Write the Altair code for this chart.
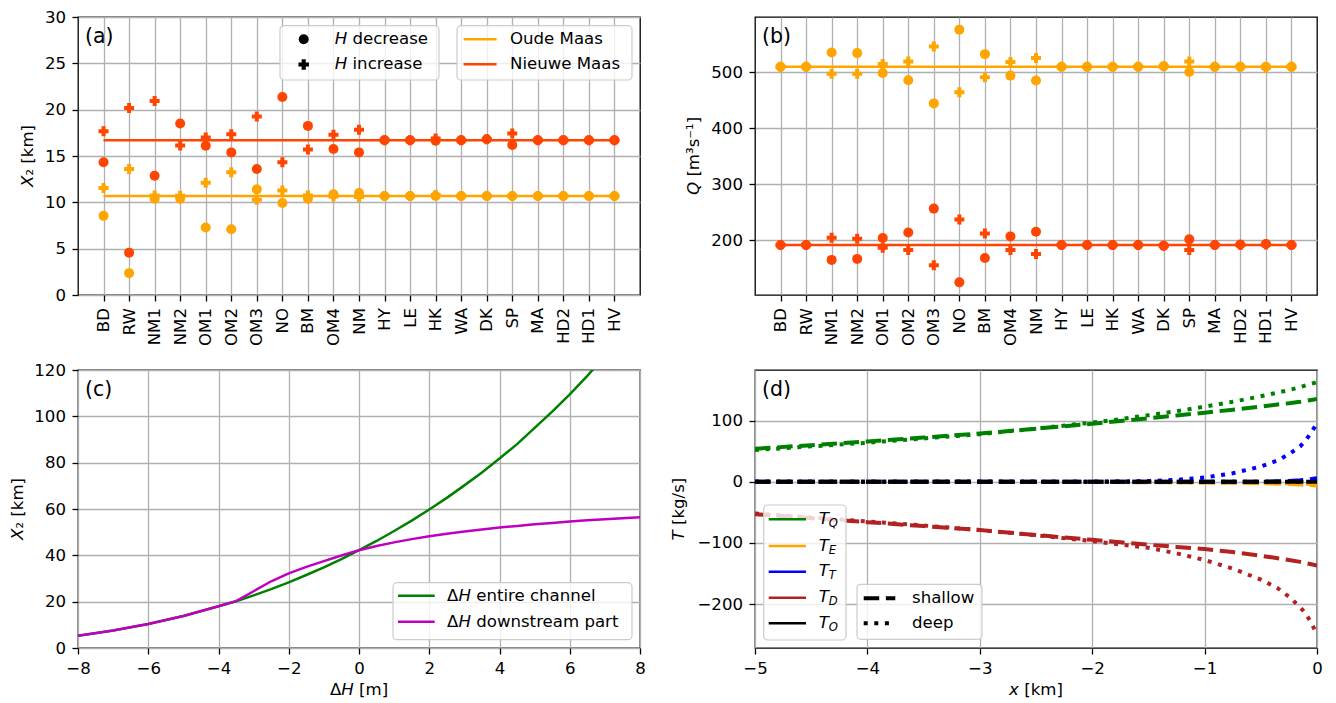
import altair as alt
import pandas as pd

FONT = "DejaVu Sans"
FS = 16.6
FS_PANEL = 20.5
FS_SUB = 11.6
SP = 5.3  # width of a space at FS
W, H = 562, 278

# ---------------- data ----------------
sites = ["BD", "RW", "NM1", "NM2", "OM1", "OM2", "OM3", "NO", "BM", "OM4", "NM",
         "HY", "LE", "HK", "WA", "DK", "SP", "MA", "HD2", "HD1", "HV"]

# (a) X2 [km]
a_om_ref = 10.68
a_nm_ref = 16.71
a_om_dec = [8.54, 2.36, 10.4, 10.4, 7.29, 7.1, 11.4, 9.93, 10.4, 10.86, 11.0,
            10.68, 10.68, 10.68, 10.68, 10.68, 10.68, 10.68, 10.68, 10.68, 10.68]
a_om_inc = [11.54, 13.6, 10.75, 10.7, 12.1, 13.25, 10.29, 11.29, 10.75, 10.64, 10.57,
            10.68, 10.68, 10.8, 10.68, 10.68, 10.68, 10.68, 10.68, 10.68, 10.68]
a_nm_dec = [14.32, 4.57, 12.86, 18.5, 16.1, 15.39, 13.6, 21.36, 18.25, 15.75, 15.39,
            16.71, 16.71, 16.65, 16.71, 16.8, 16.18, 16.71, 16.71, 16.71, 16.71]
a_nm_inc = [17.68, 20.18, 20.93, 16.14, 17.0, 17.36, 19.25, 14.32, 15.71, 17.29, 17.82,
            16.71, 16.71, 16.9, 16.71, 16.8, 17.43, 16.71, 16.71, 16.71, 16.71]

# (b) Q [m3/s]
b_om_ref = 510
b_nm_ref = 191
b_om_dec = [510, 510, 535.5, 534.3, 498.8, 485.8, 444.4, 576.3, 532.5, 494.1, 485.2,
            510, 510, 510, 510, 511, 500.6, 510, 510, 510, 510]
b_om_inc = [510, 510, 497.6, 497.6, 514.8, 519.5, 546.2, 464.5, 491.1, 518.3, 525.4,
            510, 510, 510, 510, 511, 519.5, 510, 510, 508, 510]
b_nm_dec = [191, 191, 164.5, 166.3, 203.6, 213.6, 256.2, 124.3, 168.0, 206.5, 214.8,
            191, 191, 191, 191, 190, 201.2, 191, 192, 193, 191]
b_nm_inc = [191, 191, 204.1, 202.4, 186.4, 182.2, 155.0, 236.7, 211.8, 182.2, 175.1,
            191, 191, 191, 191, 190, 182.2, 191, 191, 192, 191]

# (c) X2 vs dH
dh = [-8, -7, -6, -5, -4, -3.5, -3, -2.5, -2, -1.5, -1, -0.5, 0, 0.5, 1, 1.5, 2,
      2.5, 3, 3.5, 4, 4.5, 5, 5.5, 6, 6.5, 7, 7.5, 8]
x2_entire = [5.3, 7.6, 10.4, 13.8, 18.0, 20.2, 22.7, 25.4, 28.3, 31.5, 34.8, 38.4, 42.2,
             46.2, 50.5, 55.0, 59.8, 64.8, 70.2, 75.8, 81.8, 88.0, 95.0, 102.0, 109.5,
             117.5, 126.0, None, None]
x2_down = [5.3, 7.6, 10.4, 13.8, 18.0, 20.2, 24.5, 28.8, 32.2, 35.0, 37.5, 39.9, 42.2,
           44.0, 45.6, 47.0, 48.2, 49.3, 50.3, 51.2, 52.0, 52.7, 53.4, 54.0, 54.6,
           55.1, 55.6, 56.0, 56.4]

# (d) transports T [kg/s] vs x [km]
xd = [-5, -4.5, -4, -3.5, -3, -2.5, -2, -1.75, -1.5, -1.25, -1, -0.75, -0.5, -0.35,
      -0.25, -0.15, -0.1, -0.05, 0]
TQ_shallow = [54, 60, 66, 72.5, 79, 87, 95, 99.5, 104, 108.5, 113, 118, 123, 126.5,
              128.5, 131, 132.5, 134, 135.5]
TQ_deep = [52, 58, 64, 71, 78, 87, 97, 102.5, 109, 115.5, 123, 131, 140, 146, 150,
           155, 158, 160.5, 163]
TE_shallow = [0, 0, 0, 0, 0, -0.2, -0.4, -0.5, -0.7, -0.9, -1.2, -1.6, -2.3, -3, -3.6,
              -4.4, -4.9, -5.4, -6]
TE_deep = [0, 0, 0, 0, 0, -0.1, -0.2, -0.3, -0.4, -0.6, -0.8, -1.1, -1.6, -2.0, -2.4,
           -2.9, -3.2, -3.6, -4]
TT_shallow = [0, 0, 0, 0, 0, 0, 0, 0, 0, 0, 0, 0.1, 0.3, 0.8, 1.3, 2.4, 3.3, 4.5, 6]
TT_deep = [0, 0, 0, 0, 0, 0.1, 0.2, 0.5, 1.2, 3.2, 7, 14, 25, 35, 45, 58, 68, 81, 96]
TD_shallow = [-53, -59.5, -66, -72.5, -79, -87, -95, -99, -103, -106.5, -110, -115,
              -121, -125, -128, -131, -133, -135, -137]
TD_deep = [-52, -58.5, -65, -71.5, -79, -87.5, -97, -102.5, -108, -117, -128, -142,
           -160, -174, -188, -205, -216, -231, -250]
TO_shallow = [0, 0, 0, 0, 0, 0, 0, 0, 0, 0, 0, 0, 0, 0, 0, 0, 0, 0, 0]
TO_deep = [0, 0, 0, 0, 0, 0, 0, 0, 0, 0, 0, 0, 0, 0, 0, 0, 0, 0, 0]

river_names = ["Oude Maas", "Nieuwe Maas"]
river_colors = ["#FFA500", "#FF4500"]
change_names = ["decrease", "increase"]
comp_names = ["T_Q", "T_E", "T_T", "T_D", "T_O"]
comp_colors = ["#008000", "#FFA500", "#0000FF", "#B22222", "#000000"]
depth_names = ["shallow", "deep"]
DASH = [15.5, 6.7]
DOT = [4, 6.6]

ONE = pd.DataFrame({"k": [0]})


# ---------------- helpers (legends / math titles) ----------------
def txt(s, x, y, size=FS, style="normal", align="left", angle=0, baseline="middle"):
    kw = dict(text=s, align=align, baseline=baseline, font=FONT, fontSize=size,
              fontStyle=style, color="black")
    if angle:
        kw["angle"] = angle
    return alt.Chart(ONE).mark_text(**kw).encode(x=alt.value(x), y=alt.value(y))


def box(x1, x2, y1, y2):
    return alt.Chart(ONE).mark_rect(fill="white", fillOpacity=0.8, stroke="#cccccc",
                                    strokeWidth=1.2, cornerRadius=4).encode(
        x=alt.value(x1), x2=alt.value(x2), y=alt.value(y1), y2=alt.value(y2))


def hline(x1, x2, y, color, width=2.5, dash=None):
    kw = dict(color=color, strokeWidth=width)
    if dash:
        kw["strokeDash"] = dash
    return alt.Chart(ONE).mark_rule(**kw).encode(x=alt.value(x1), x2=alt.value(x2),
                                                 y=alt.value(y))


def sym(shape, x, y, size):
    return alt.Chart(ONE).mark_point(shape=shape, filled=True, size=size, color="black",
                                     opacity=1, strokeWidth=0).encode(
        x=alt.value(x), y=alt.value(y))


def ytitle(italic, rest, cx, w_italic, w_total, gap=0.0):
    # rotated title, reading bottom-to-top, centred on the plot height
    ya = H / 2 + w_total / 2 - w_italic
    return [txt(italic, cx, ya, style="italic", align="right", angle=270),
            txt(rest, cx, ya - gap, align="left", angle=270)]


def station_frames(om_ref, nm_ref, om_dec, om_inc, nm_dec, nm_inc):
    n = len(sites)
    lines = pd.DataFrame({
        "site": sites * 2,
        "i": list(range(n)) * 2,
        "river": ["Oude Maas"] * n + ["Nieuwe Maas"] * n,
        "v": [om_ref] * n + [nm_ref] * n,
    })
    pts = pd.DataFrame({
        "site": sites * 4,
        "river": ["Oude Maas"] * (2 * n) + ["Nieuwe Maas"] * (2 * n),
        "change": (["decrease"] * n + ["increase"] * n) * 2,
        "v": om_dec + om_inc + nm_dec + nm_inc,
    })
    return lines, pts


def station_panel(lines, pts, ydomain, yticks):
    xenc = alt.X("site:N", sort=sites, scale=alt.Scale(type="point", padding=1),
                 axis=alt.Axis(title=None, labelAngle=270, labelAlign="right",
                               labelBaseline="middle", grid=True))
    yenc = alt.Y("v:Q", scale=alt.Scale(domain=ydomain, nice=False, zero=False),
                 axis=alt.Axis(title=None, values=yticks))
    color = alt.Color("river:N", scale=alt.Scale(domain=river_names, range=river_colors),
                      legend=None)
    ln = alt.Chart(lines).mark_line(strokeWidth=2.5).encode(
        x=xenc, y=yenc, color=color, order="i:Q", detail="river:N")
    pt = alt.Chart(pts).mark_point(filled=True, opacity=1, size=100, strokeWidth=0).encode(
        x=xenc, y=yenc, color=color,
        shape=alt.Shape("change:N", scale=alt.Scale(domain=change_names,
                                                    range=["circle", "cross"]),
                        legend=None))
    return [ln, pt]


# ---------------- panel (a) ----------------
la, pa_pts = station_frames(a_om_ref, a_nm_ref, a_om_dec, a_om_inc, a_nm_dec, a_nm_inc)
layers_a = station_panel(la, pa_pts, [0, 30], [0, 5, 10, 15, 20, 25, 30])
layers_a += [
    txt("(a)", 7, 20, size=FS_PANEL),
    box(202, 361, 8.7, 63),
    sym("circle", 225.7, 22.3, 100),
    sym("cross", 225.7, 47.5, 110),
    txt("H", 256.7, 22.3, style="italic"),
    txt("decrease", 269.2 + SP, 22.3),
    txt("H", 256.7, 47.3, style="italic"),
    txt("increase", 269.2 + SP, 47.3),
    box(379, 554, 8.7, 63),
    hline(385.6, 418.6, 22.3, river_colors[0]),
    hline(385.6, 418.6, 47.3, river_colors[1]),
    txt("Oude Maas", 432, 22.3),
    txt("Nieuwe Maas", 432, 47.3),
]
layers_a += ytitle("X", "\u2082 [km]", -50, 11.4, 62)
panel_a = alt.layer(*layers_a).properties(width=W, height=H)

# ---------------- panel (b) ----------------
lb, pb_pts = station_frames(b_om_ref, b_nm_ref, b_om_dec, b_om_inc, b_nm_dec, b_nm_inc)
layers_b = station_panel(lb, pb_pts, [101.7, 598.9], [200, 300, 400, 500])
layers_b += [txt("(b)", 7, 20, size=FS_PANEL)]
layers_b += ytitle("Q", "[m\u00b3s\u207b\u00b9]", -61, 13.1, 78, gap=SP)
panel_b = alt.layer(*layers_b).properties(width=W, height=H)

# ---------------- panel (c) ----------------
dfc = pd.DataFrame({
    "dh": dh * 2,
    "x2": x2_entire + x2_down,
    "case": ["entire"] * len(dh) + ["downstream"] * len(dh),
}).dropna()
xc = alt.X("dh:Q", scale=alt.Scale(domain=[-8, 8], nice=False, zero=False),
           axis=alt.Axis(title=None, values=[-8, -6, -4, -2, 0, 2, 4, 6, 8]))
yc = alt.Y("x2:Q", scale=alt.Scale(domain=[0, 120], nice=False, zero=False),
           axis=alt.Axis(title=None, values=[0, 20, 40, 60, 80, 100, 120]))
line_c1 = alt.Chart(dfc[dfc["case"] == "entire"]).mark_line(
    color="#008000", strokeWidth=2.5, clip=True).encode(x=xc, y=yc, order="dh:Q")
line_c2 = alt.Chart(dfc[dfc["case"] == "downstream"]).mark_line(
    color="#BF00BF", strokeWidth=2.5, clip=True).encode(x=xc, y=yc, order="dh:Q")
cx = W / 2
layers_c = [
    line_c1, line_c2,
    txt("(c)", 7, 20, size=FS_PANEL),
    box(315, 554, H - 65.3, H - 8.3),
    hline(320, 356.7, H - 52.3, "#008000"),
    hline(320, 356.7, H - 26.3, "#BF00BF"),
    txt("\u0394", 369, H - 52.3),
    txt("H", 380.4, H - 52.3, style="italic"),
    txt("entire channel", 392.9 + SP, H - 52.3),
    txt("\u0394", 369, H - 26.3),
    txt("H", 380.4, H - 26.3, style="italic"),
    txt("downstream part", 392.9 + SP, H - 26.3),
    txt("\u0394", cx - 17.7, H + 42, align="right"),
    txt("H", cx - 17.7, H + 42, style="italic"),
    txt("[m]", cx - 5.2 + SP, H + 42),
]
layers_c += ytitle("X", "\u2082 [km]", -60.5, 11.4, 62)
panel_c = alt.layer(*layers_c).properties(width=W, height=H)

# ---------------- panel (d) ----------------
series_d = [
    ("T_Q", "shallow", TQ_shallow), ("T_Q", "deep", TQ_deep),
    ("T_E", "shallow", TE_shallow), ("T_E", "deep", TE_deep),
    ("T_T", "shallow", TT_shallow), ("T_T", "deep", TT_deep),
    ("T_D", "shallow", TD_shallow), ("T_D", "deep", TD_deep),
    ("T_O", "shallow", TO_shallow), ("T_O", "deep", TO_deep),
]
rows = []
for k, (comp, depth, vals) in enumerate(series_d):
    for x, v in zip(xd, vals):
        rows.append({"x": x, "T": v, "comp": comp, "depth": depth, "s": k})
dfd = pd.DataFrame(rows)
xdx = alt.X("x:Q", scale=alt.Scale(domain=[-5, 0], nice=False, zero=False),
            axis=alt.Axis(title=None, values=[-5, -4, -3, -2, -1, 0]))
ydy = alt.Y("T:Q", scale=alt.Scale(domain=[-272, 183], nice=False, zero=False),
            axis=alt.Axis(title=None, values=[-200, -100, 0, 100]))
line_d = alt.Chart(dfd).mark_line(strokeWidth=4, clip=True).encode(
    x=xdx, y=ydy,
    color=alt.Color("comp:N", scale=alt.Scale(domain=comp_names, range=comp_colors),
                    legend=None),
    strokeDash=alt.StrokeDash("depth:N", scale=alt.Scale(domain=depth_names,
                                                         range=[DASH, DOT]),
                              legend=None),
    detail="s:N",
    order="x:Q",
)
layers_d = [line_d, txt("(d)", 7, 20, size=FS_PANEL), box(8.7, 91, H - 143, H - 8)]
leg_rows = [H - 128.7, H - 102, H - 76.3, H - 50.3, H - 24.7]
subs = ["Q", "E", "T", "D", "O"]
for yy, col, sb in zip(leg_rows, comp_colors, subs):
    layers_d += [
        hline(13.7, 51, yy, col),
        txt("T", 63.7, yy - 0.5, style="italic"),
        txt(sb, 73.8, yy + 4.5, size=FS_SUB, style="italic"),
    ]
layers_d += [
    box(102, 227, H - 63.7, H - 8.7),
    hline(108.7, 140.3, H - 49.7, "black", width=4, dash=DASH),
    hline(108.7, 140.3, H - 24.7, "black", width=4, dash=DOT),
    txt("shallow", 157, H - 49.7),
    txt("deep", 157, H - 24.7),
    txt("x", cx - 17.1, H + 42, style="italic", align="right"),
    txt("[km]", cx - 17.1 + SP, H + 42),
]
layers_d += ytitle("T", "[kg/s]", -76, 10.1, 62.8, gap=SP)
panel_d = alt.layer(*layers_d).properties(width=W, height=H)

# ---------------- assemble ----------------
chart = alt.concat(
    panel_a, panel_b, panel_c, panel_d,
    columns=2, spacing={"row": 75, "column": 115}, bounds="flush",
).resolve_scale(
    x="independent", y="independent", color="independent",
    shape="independent", strokeDash="independent",
).properties(
    padding={"left": 0, "top": 0, "right": 5, "bottom": 2},
).configure_view(
    stroke="black", strokeWidth=1.3,
).configure_axis(
    grid=True, gridColor="#b0b0b0", gridWidth=1.3, domain=False,
    ticks=True, tickColor="black", tickWidth=1.3, tickSize=6,
    labelFont=FONT, labelFontSize=FS, labelColor="black", labelPadding=6.5,
    labelFlush=False, labelOverlap=False,
)

chart.save("out.html", embed_options={"renderer": "svg", "actions": False})
